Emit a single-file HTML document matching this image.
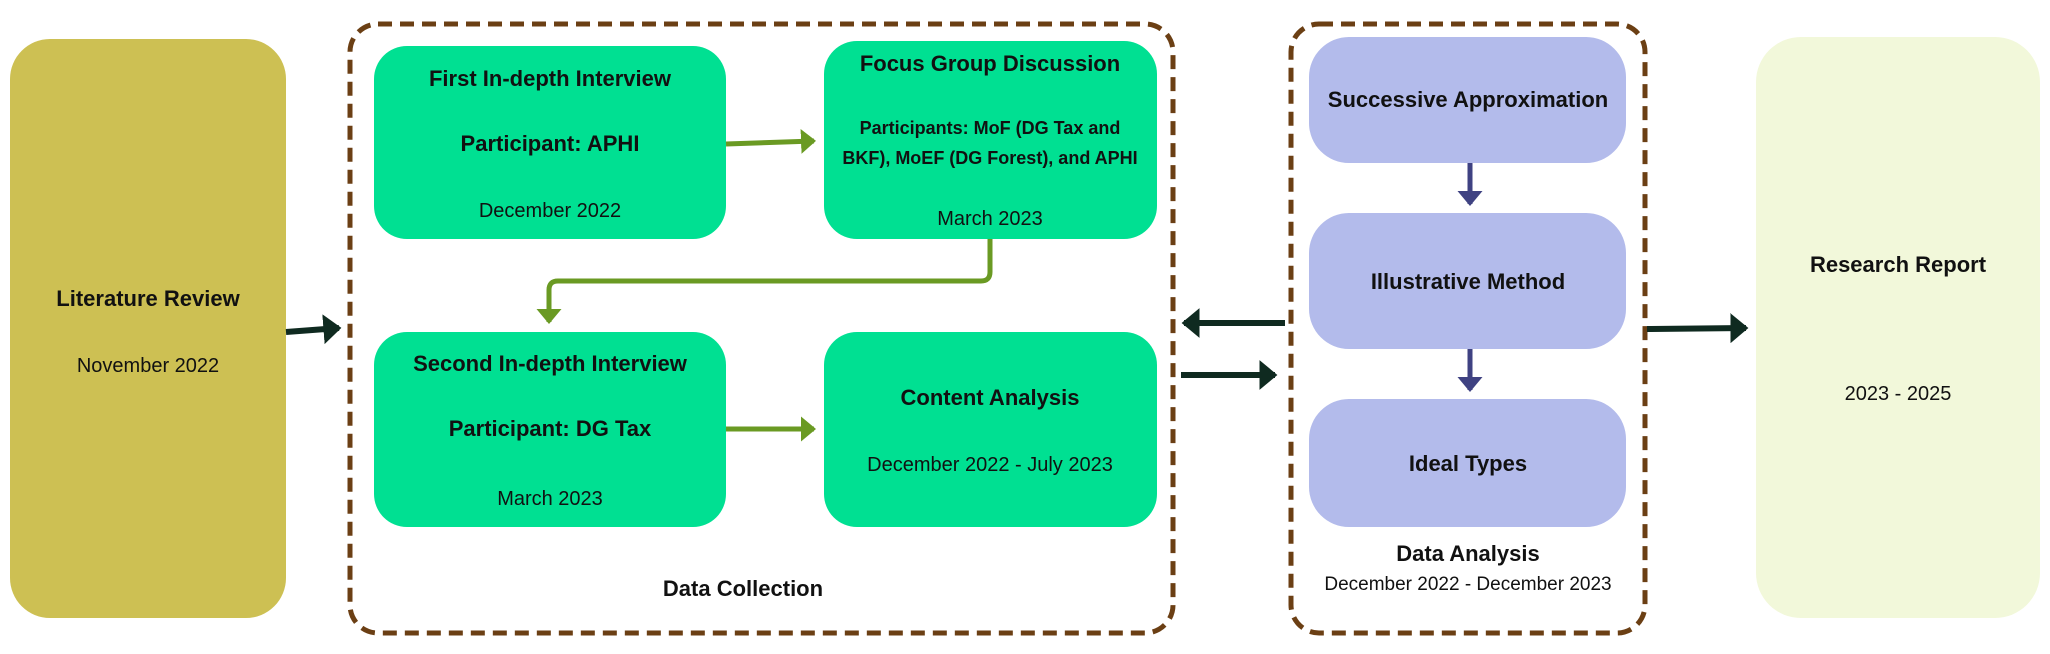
<!DOCTYPE html>
<html><head><meta charset="utf-8"><style>
html,body{margin:0;padding:0;background:#fff;}
svg{display:block;}
text{font-family:"Liberation Sans",sans-serif;fill:#111;text-anchor:middle;}
.b{font-weight:bold;font-size:22px;}
.d{font-size:20px;}
</style></head><body>
<svg width="2050" height="654" viewBox="0 0 2050 654" xmlns="http://www.w3.org/2000/svg">
<defs>
<marker id="ak" markerWidth="4" markerHeight="5" refX="2.6" refY="2.5" orient="auto" markerUnits="strokeWidth"><path d="M0,0 L3,2.5 L0,5 Z" fill="#0f2a20"/></marker>
<marker id="ag" markerWidth="4" markerHeight="5" refX="2.6" refY="2.5" orient="auto" markerUnits="strokeWidth"><path d="M0,0 L3,2.5 L0,5 Z" fill="#6a9a23"/></marker>
<marker id="ap" markerWidth="4" markerHeight="5" refX="2.6" refY="2.5" orient="auto" markerUnits="strokeWidth"><path d="M0,0 L3,2.5 L0,5 Z" fill="#3f4282"/></marker>
</defs>
<rect x="10" y="39" width="276" height="579" rx="40" fill="#cdc053"/>
<text class="b" x="148" y="306">Literature Review</text>
<text class="d" x="148" y="372">November 2022</text>

<rect x="350" y="24" width="823" height="609" rx="28" fill="none" stroke="#6b3f14" stroke-width="5" stroke-dasharray="14 8"/>
<rect x="1291" y="24" width="354" height="609" rx="28" fill="none" stroke="#6b3f14" stroke-width="5" stroke-dasharray="14 8"/>

<rect x="374" y="46" width="352" height="193" rx="33" fill="#00e092"/>
<text class="b" x="550" y="86">First In-depth Interview</text>
<text class="b" x="550" y="151">Participant: APHI</text>
<text class="d" x="550" y="217">December 2022</text>

<rect x="824" y="41" width="333" height="198" rx="33" fill="#00e092"/>
<text class="b" x="990" y="71">Focus Group Discussion</text>
<text class="b" x="990" y="134" style="font-size:18px">Participants: MoF (DG Tax and</text>
<text class="b" x="990" y="164" style="font-size:18px">BKF), MoEF (DG Forest), and APHI</text>
<text class="d" x="990" y="225">March 2023</text>

<rect x="374" y="332" width="352" height="195" rx="33" fill="#00e092"/>
<text class="b" x="550" y="371">Second In-depth Interview</text>
<text class="b" x="550" y="436">Participant: DG Tax</text>
<text class="d" x="550" y="505">March 2023</text>

<rect x="824" y="332" width="333" height="195" rx="33" fill="#00e092"/>
<text class="b" x="990" y="405">Content Analysis</text>
<text class="d" x="990" y="471">December 2022 - July 2023</text>

<text class="b" x="743" y="596">Data Collection</text>

<rect x="1309" y="37" width="317" height="126" rx="40" fill="#b3bbeb"/>
<text class="b" x="1468" y="107">Successive Approximation</text>
<rect x="1309" y="213" width="317" height="136" rx="40" fill="#b3bbeb"/>
<text class="b" x="1468" y="289">Illustrative Method</text>
<rect x="1309" y="399" width="317" height="128" rx="40" fill="#b3bbeb"/>
<text class="b" x="1468" y="471">Ideal Types</text>
<text class="b" x="1468" y="561">Data Analysis</text>
<text class="d" x="1468" y="590" style="font-size:19px">December 2022 - December 2023</text>

<rect x="1756" y="37" width="284" height="581" rx="45" fill="#f2f8da"/>
<text class="b" x="1898" y="272">Research Report</text>
<text class="d" x="1898" y="400">2023 - 2025</text>

<g stroke="#0f2a20" stroke-width="6" fill="none">
<line x1="286" y1="332" x2="339" y2="328" marker-end="url(#ak)"/>
<line x1="1285" y1="323" x2="1184" y2="323" marker-end="url(#ak)"/>
<line x1="1181" y1="375" x2="1275" y2="375" marker-end="url(#ak)"/>
<line x1="1647" y1="329" x2="1746" y2="328" marker-end="url(#ak)"/>
</g>
<g stroke="#6a9a23" stroke-width="5" fill="none">
<line x1="726" y1="144" x2="814" y2="141" marker-end="url(#ag)"/>
<line x1="726" y1="429" x2="814" y2="429" marker-end="url(#ag)"/>
<path d="M990,239 V272 Q990,281 981,281 H558 Q549,281 549,290 V322" marker-end="url(#ag)"/>
</g>
<g stroke="#3f4282" stroke-width="5" fill="none">
<line x1="1470" y1="163" x2="1470" y2="204" marker-end="url(#ap)"/>
<line x1="1470" y1="349" x2="1470" y2="390" marker-end="url(#ap)"/>
</g>
</svg>
</body></html>
